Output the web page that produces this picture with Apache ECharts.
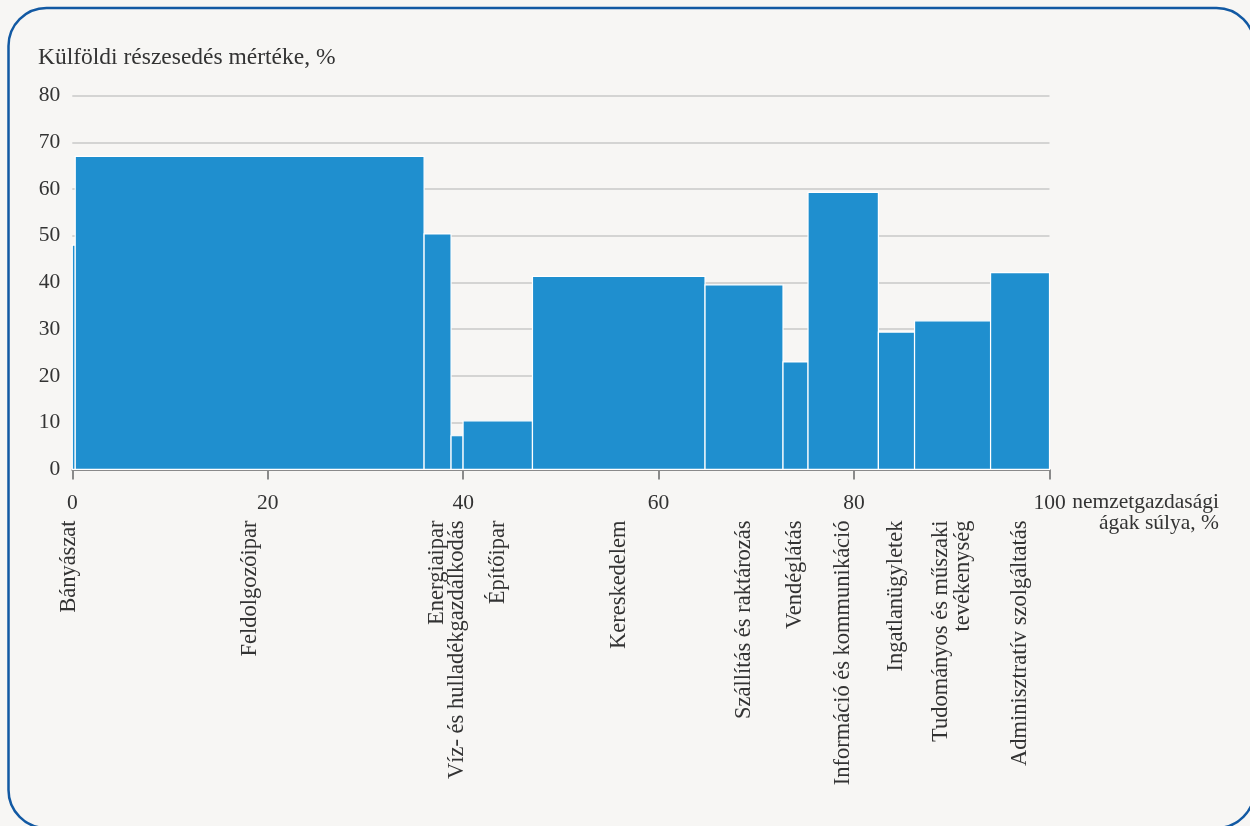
<!DOCTYPE html>
<html>
<head>
<meta charset="utf-8">
<script src="https://cdn.jsdelivr.net/npm/echarts@6/dist/echarts.min.js"></script>
<style>
html,body{margin:0;padding:0;background:#f7f6f4;}
#chart{width:1250px;height:826px;}
</style>
</head>
<body>
<div id="chart"></div>
<script>
// Sector names, weights (share of national economy, %) and foreign ownership share (%)
var categories = [
  'Bányászat',
  'Feldolgozóipar',
  'Energiaipar',
  'Víz- és hulladékgazdálkodás',
  'Építőipar',
  'Kereskedelem',
  'Szállítás és raktározás',
  'Vendéglátás',
  'Információ és kommunikáció',
  'Ingatlanügyletek',
  'Tudományos és műszaki\ntevékenység',
  'Adminisztratív szolgáltatás'
];
var weights = [0.3, 35.7, 2.76, 1.23, 7.1, 17.66, 7.98, 2.56, 7.2, 3.7, 7.78, 6.03];
var foreignShare = [48, 67, 50.4, 7.2, 10.4, 41.3, 39.5, 23, 59.3, 29.4, 31.8, 42.1];
var xTicks = [0, 20, 40, 60, 80, 100];
var yTicks = [0, 10, 20, 30, 40, 50, 60, 70, 80];

var FONT = '"Liberation Serif", "Times New Roman", serif';
var TXT = '#333333';

// build [start, width, value, name]
var seriesData = [];
var acc = 0;
for (var i = 0; i < categories.length; i++) {
  seriesData.push([acc, weights[i], foreignShare[i], categories[i]]);
  acc += weights[i];
}

var chart = echarts.init(document.getElementById('chart'));

function renderItem(params, api) {
  var x0 = api.value(0), w = api.value(1), v = api.value(2);
  var name = categories[params.dataIndex];
  var p1 = api.coord([x0, v]);
  var p2 = api.coord([x0 + w, 0]);
  var pc = api.coord([x0 + w / 2, 0]);
  var lx = params.dataIndex === 0 ? pc[0] - 5 : pc[0];
  return {
    type: 'group',
    children: [
      {
        type: 'rect',
        shape: { x: p1[0], y: p1[1], width: p2[0] - p1[0], height: p2[1] - p1[1] },
        style: { fill: '#1f8fcf', stroke: '#ffffff', lineWidth: 1.2 }
      },
      {
        type: 'text',
        x: lx,
        y: pc[1] + 51,
        rotation: Math.PI / 2,
        style: {
          text: name,
          fill: TXT,
          font: '22.5px ' + FONT,
          align: 'right',
          verticalAlign: 'middle',
          lineHeight: 22
        }
      }
    ]
  };
}

var option = {
  backgroundColor: '#f7f6f4',
  animation: false,
  title: {
    text: 'Külföldi részesedés mértéke, %',
    left: 38,
    top: 46,
    padding: 0,
    textStyle: { fontFamily: FONT, fontSize: 23.5, fontWeight: 'normal', color: TXT }
  },
  grid: { left: 72.3, right: 200.5, top: 95.6, bottom: 356.6 },
  xAxis: {
    type: 'value',
    min: xTicks[0],
    max: xTicks[xTicks.length - 1],
    interval: 20,
    name: 'nemzetgazdasági\nágak súlya, %',
    nameLocation: 'end',
    nameGap: 169.5,
    nameTextStyle: {
      fontFamily: FONT, fontSize: 21.5, color: TXT,
      align: 'right', verticalAlign: 'top', lineHeight: 21,
      padding: [22, 0, 0, 0]
    },
    axisLine: { show: true, lineStyle: { color: '#8a8a8a', width: 2 } },
    axisTick: { show: true, length: 10, lineStyle: { color: '#8a8a8a', width: 2 } },
    axisLabel: { margin: 23, fontFamily: FONT, fontSize: 21.5, color: TXT },
    splitLine: { show: false }
  },
  yAxis: {
    type: 'value',
    min: yTicks[0],
    max: yTicks[yTicks.length - 1],
    interval: 10,
    axisLine: { show: false },
    axisTick: { show: false },
    axisLabel: { margin: 12, fontFamily: FONT, fontSize: 21.5, color: TXT },
    splitLine: { show: true, lineStyle: { color: '#c9c9c9', width: 1.5 } }
  },
  series: [{
    type: 'custom',
    renderItem: renderItem,
    clip: false,
    encode: { x: [0, 1], y: 2 },
    data: seriesData
  }],
  graphic: [{
    type: 'rect',
    silent: true,
    z: 100,
    shape: { x: 8.5, y: 8, width: 1246, height: 820, r: 38 },
    style: { fill: 'none', stroke: '#1259a3', lineWidth: 2.5 }
  }]
};

chart.setOption(option);
</script>
</body>
</html>
